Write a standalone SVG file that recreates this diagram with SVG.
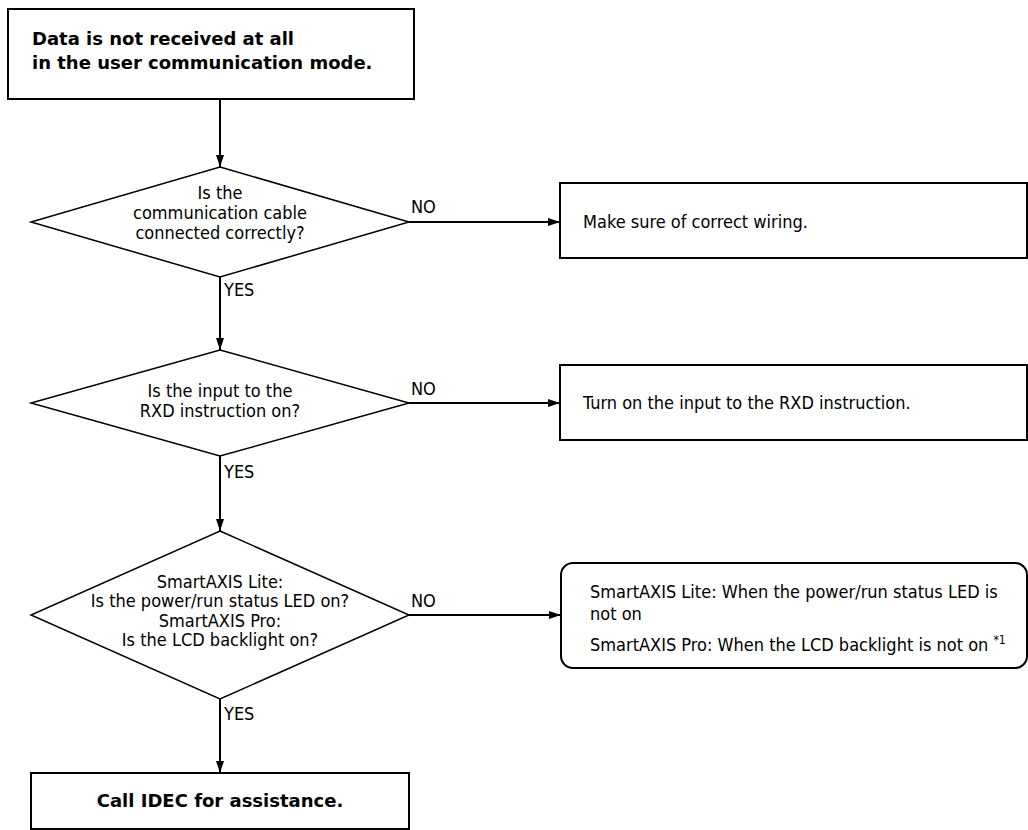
<svg xmlns="http://www.w3.org/2000/svg" width="1028" height="830" viewBox="0 0 1028 830">
<defs>
<marker id="ah" markerWidth="12" markerHeight="8" refX="12" refY="4" orient="auto" markerUnits="userSpaceOnUse">
<path d="M0,0 L12,4 L0,8 Z" fill="#000"/>
</marker>
<style>
.box{fill:#fff;stroke:#000;stroke-width:2}
.dia{fill:#fff;stroke:#000;stroke-width:1.5}
.con{fill:none;stroke:#000;stroke-width:2;marker-end:url(#ah)}
.t{font-family:"DejaVu Sans Condensed","DejaVu Sans",sans-serif;font-stretch:condensed;font-size:18px;fill:#000}
.c{text-anchor:middle}
.b{font-family:"DejaVu Sans",sans-serif;font-size:18px;font-weight:bold;fill:#000}
.lbl{font-family:"DejaVu Sans Condensed","DejaVu Sans",sans-serif;font-stretch:condensed;font-size:18px;fill:#000}
</style>
</defs>
<rect width="1028" height="830" fill="#fff"/>
<g id="connectors">
<line class="con" x1="220" y1="99" x2="220" y2="167"/>
<line class="con" x1="409" y1="222" x2="560" y2="222"/>
<line class="con" x1="220" y1="277" x2="220" y2="350"/>
<line class="con" x1="409" y1="403" x2="560" y2="403"/>
<line class="con" x1="220" y1="456" x2="220" y2="531"/>
<line class="con" x1="409" y1="615" x2="561" y2="615"/>
<line class="con" x1="220" y1="699" x2="220" y2="773"/>
<text class="lbl" x="411" y="213">NO</text>
<text class="lbl" x="224" y="296">YES</text>
<text class="lbl" x="411" y="395">NO</text>
<text class="lbl" x="224" y="478">YES</text>
<text class="lbl" x="411" y="607">NO</text>
<text class="lbl" x="224" y="720">YES</text>
</g>
<g id="start">
<rect class="box" x="8" y="9" width="406" height="90"/>
<text class="b" x="32" y="45">Data is not received at all</text>
<text class="b" x="32" y="69">in the user communication mode.</text>
</g>
<g id="q1">
<polygon class="dia" points="220,167 409,222 220,277 31,222"/>
<text class="t c" x="220" y="199">Is the</text>
<text class="t c" x="220" y="219">communication cable</text>
<text class="t c" x="220" y="239">connected correctly?</text>
</g>
<g id="a1">
<rect class="box" x="560" y="183" width="467" height="75"/>
<text class="t" x="583" y="228">Make sure of correct wiring.</text>
</g>
<g id="q2">
<polygon class="dia" points="220,350 409,403 220,456 31,403"/>
<text class="t c" x="220" y="397">Is the input to the</text>
<text class="t c" x="220" y="417">RXD instruction on?</text>
</g>
<g id="a2">
<rect class="box" x="560" y="365" width="467" height="75"/>
<text class="t" x="583" y="409">Turn on the input to the RXD instruction.</text>
</g>
<g id="q3">
<polygon class="dia" points="220,531 409,615 220,699 31,615"/>
<text class="t c" x="220" y="588">SmartAXIS Lite:</text>
<text class="t c" x="220" y="607">Is the power/run status LED on?</text>
<text class="t c" x="220" y="627">SmartAXIS Pro:</text>
<text class="t c" x="220" y="646">Is the LCD backlight on?</text>
</g>
<g id="a3">
<rect class="box" x="561" y="563" width="466" height="105" rx="12" ry="12"/>
<text class="t" x="590" y="598">SmartAXIS Lite: When the power/run status LED is</text>
<text class="t" x="590" y="620">not on</text>
<text class="t" x="590" y="651">SmartAXIS Pro: When the LCD backlight is not on <tspan font-size="12" dy="-7">*1</tspan></text>
</g>
<g id="end">
<rect class="box" x="31" y="773" width="378" height="56"/>
<text class="b c" x="220" y="807">Call IDEC for assistance.</text>
</g>
</svg>
